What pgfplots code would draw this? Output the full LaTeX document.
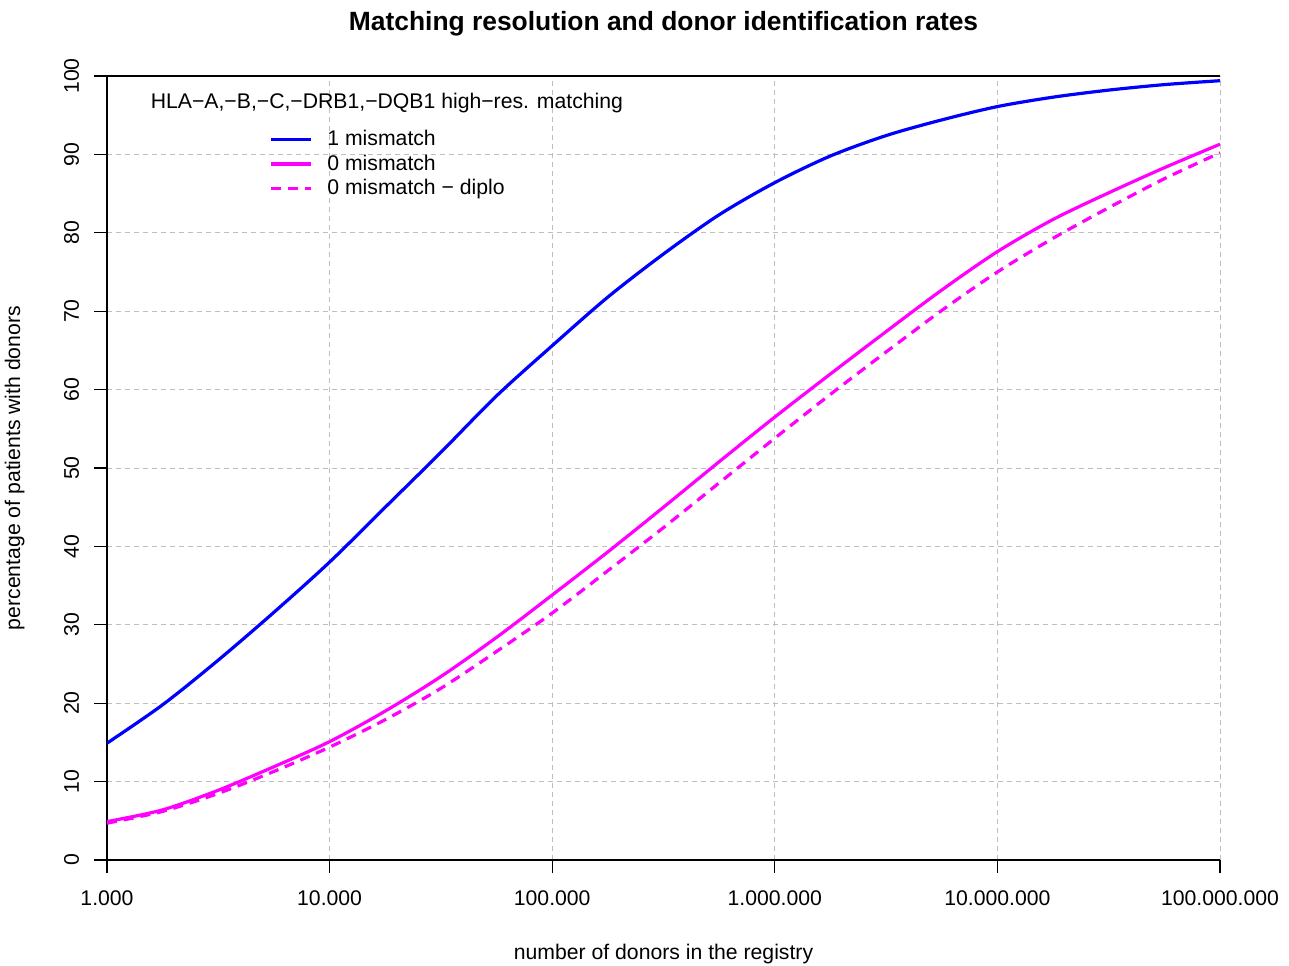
\documentclass[border=0pt]{standalone}
\usepackage{fontspec}
\setmainfont{Liberation Sans}
\usepackage{pgfplots}
\pgfplotsset{compat=1.18}

\definecolor{rblue}{RGB}{0,0,255}
\definecolor{rmag}{RGB}{255,0,255}
\definecolor{rgrid}{RGB}{190,190,190}

\begin{document}
\begin{tikzpicture}
\begin{axis}[
    scale only axis,
    width=556.5pt,
    height=392pt,
    xmode=log,
    xmin=1000, xmax=1e8,
    ymin=0, ymax=100,
    enlargelimits=false,
    xtick={1e3,1e4,1e5,1e6,1e7,1e8},
    xticklabels={1.000,10.000,100.000,1.000.000,10.000.000,100.000.000},
    xminorticks=false,
    ytick={0,10,...,100},
    axis x line*=bottom,
    axis y line*=left,
    axis line style={black, line width=0.6pt},
    tick style={black, line width=0.6pt},
    tick align=outside,
    major tick length=6.5pt,
    grid=major,
    major grid style={rgrid, line width=0.5pt, dash pattern=on 2.5pt off 2pt},
    /pgf/number format/assume math mode=true,
    ticklabel style={font=\fontsize{10.6}{12}\selectfont},
    xticklabel style={yshift=-5.5pt},
    yticklabel style={rotate=90, anchor=south, yshift=4pt},
    title={Matching resolution and donor identification rates},
    title style={at={(axis description cs:0.5,1.051)}, anchor=center,
        font=\fontsize{13.2}{15}\selectfont\bfseries},
    xlabel={number of donors in the registry},
    xlabel style={at={(axis description cs:0.5,-0.12)}, anchor=center,
        font=\fontsize{10.6}{12}\selectfont},
    ylabel={percentage of patients with donors},
    ylabel style={at={(axis description cs:-0.083,0.5)}, anchor=center,
        font=\fontsize{10.6}{12}\selectfont},
    legend cell align=left,
    legend style={draw=none, fill=none,
        at={(axis description cs:0.14,0.94)}, anchor=north west,
        font=\fontsize{10.6}{12}\selectfont,
        row sep=0pt,
        nodes={inner sep=1.5pt},
        /tikz/every odd column/.append style={column sep=6pt}},
    legend image code/.code={\draw[#1] (0pt,0pt) -- (20pt,0pt);},
]

% 1 mismatch
\addplot[rblue, line width=1.6pt, smooth] coordinates {
 (1000,14.9) (1778,19.8) (3162,25.5) (5623,31.6) (10000,38.0)
 (17783,45.0) (31623,52.0) (56234,59.2) (100000,65.6)
 (177828,71.8) (316228,77.3) (562341,82.3) (1000000,86.4)
 (1778279,89.8) (3162278,92.4) (5623413,94.4) (10000000,96.1)
 (17782794,97.3) (31622777,98.2) (56234133,98.9) (100000000,99.4)
};
\addlegendentry{1 mismatch}

% 0 mismatch
\addplot[rmag, line width=1.6pt, smooth] coordinates {
 (1000,4.9) (1778,6.4) (3162,8.9) (5623,11.9) (10000,15.1)
 (17783,19.0) (31623,23.4) (56234,28.4) (100000,33.8)
 (177828,39.3) (316228,45.0) (562341,50.8) (1000000,56.5)
 (1778279,62.0) (3162278,67.4) (5623413,72.7) (10000000,77.6)
 (17782794,81.7) (31622777,85.1) (56234133,88.3) (100000000,91.3)
};
\addlegendentry{0 mismatch}

% 0 mismatch - diplo
\addplot[rmag, line width=1.6pt, smooth, dash pattern=on 5pt off 3.5pt] coordinates {
 (1000,4.7) (1778,6.2) (3162,8.5) (5623,11.3) (10000,14.4)
 (17783,17.9) (31623,21.9) (56234,26.6) (100000,31.5)
 (177828,36.9) (316228,42.4) (562341,48.1) (1000000,53.8)
 (1778279,59.4) (3162278,64.8) (5623413,70.1) (10000000,75.0)
 (17782794,79.3) (31622777,83.2) (56234133,86.9) (100000000,90.2)
};
\addlegendentry{0 mismatch − diplo}

\draw[black, line width=0.6pt] (rel axis cs:0,1) -- (rel axis cs:1,1);
\node[font=\fontsize{10.6}{12}\selectfont, anchor=center]
    at (axis description cs:0.2515,0.9655) {HLA−A,−B,−C,−DRB1,−DQB1 high−res. matching};
\coordinate (bl) at (rel axis cs:0,0);
\coordinate (tr) at (rel axis cs:1,1);
\end{axis}
\pgfresetboundingbox
\path[use as bounding box] ([xshift=-53.5pt,yshift=-52.5pt]bl) rectangle ([xshift=34.5pt,yshift=38pt]tr);
\end{tikzpicture}
\end{document}
